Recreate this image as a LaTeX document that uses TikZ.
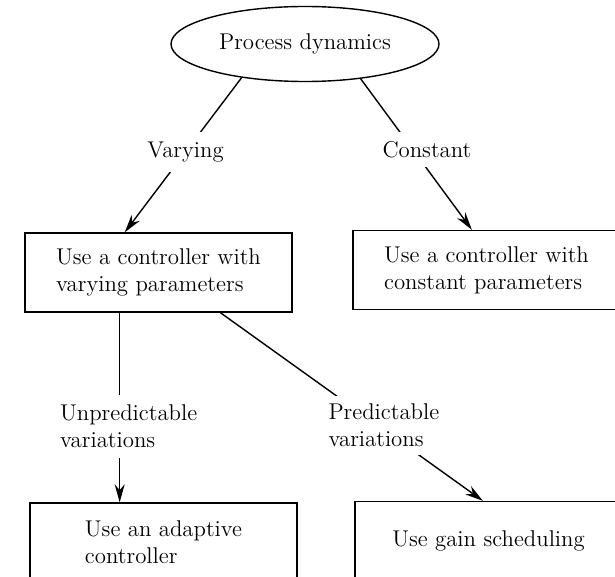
\documentclass[tikz,border=0pt]{standalone}
\usetikzlibrary{shapes.geometric,arrows.meta}
\begin{document}
\begin{tikzpicture}[x=0.5pt,y=-0.5pt,
	every node/.style={font=\fontsize{11.4}{13.5}\selectfont},
	ctrlbox/.style={draw,line width=0.7pt,minimum width=133.5pt,minimum height=39.5pt,align=left},
	lbl/.style={fill=white,align=left,inner xsep=2pt,inner ysep=5pt},
	arr/.style={line width=0.7pt,-{Stealth[length=9pt,width=5pt]}}]
	\useasboundingbox (0,0) rectangle (615,577);
	\node[ellipse,draw,line width=0.7pt,minimum width=134pt,minimum height=37.5pt,inner sep=0pt] (dyn) at (305,44) {Process dynamics};
	\node[ctrlbox] (varbox) at (158.5,272.5) {Use a controller with\\varying parameters};
	\node[ctrlbox] (constbox) at (486.5,270) {Use a controller with\\constant parameters};
	\node[ctrlbox] (adaptbox) at (163.5,542.5) {Use an adaptive\\controller};
	\node[ctrlbox] (gainbox) at (488.5,541) {Use gain scheduling};
	% first choice
	\draw[arr] (dyn.208) -- node[lbl,pos=0.48] (vary) {Varying} (varbox.130);
	\draw[arr] (dyn.328) -- node[lbl,pos=0.47,xshift=7pt,inner ysep=4.5pt] (const) {Constant} (constbox.110);
	% second choice
	\draw[arr] (varbox.226) -- node[lbl,pos=0.6,xshift=4.5pt] (unpred) {Unpredictable\\variations} (varbox.226 |- adaptbox.north);
	\draw[arr] (varbox.327) -- node[lbl,pos=0.6,xshift=3pt,inner ysep=4pt] (pred) {Predictable\\variations} (gainbox.98);
\end{tikzpicture}
\end{document}
